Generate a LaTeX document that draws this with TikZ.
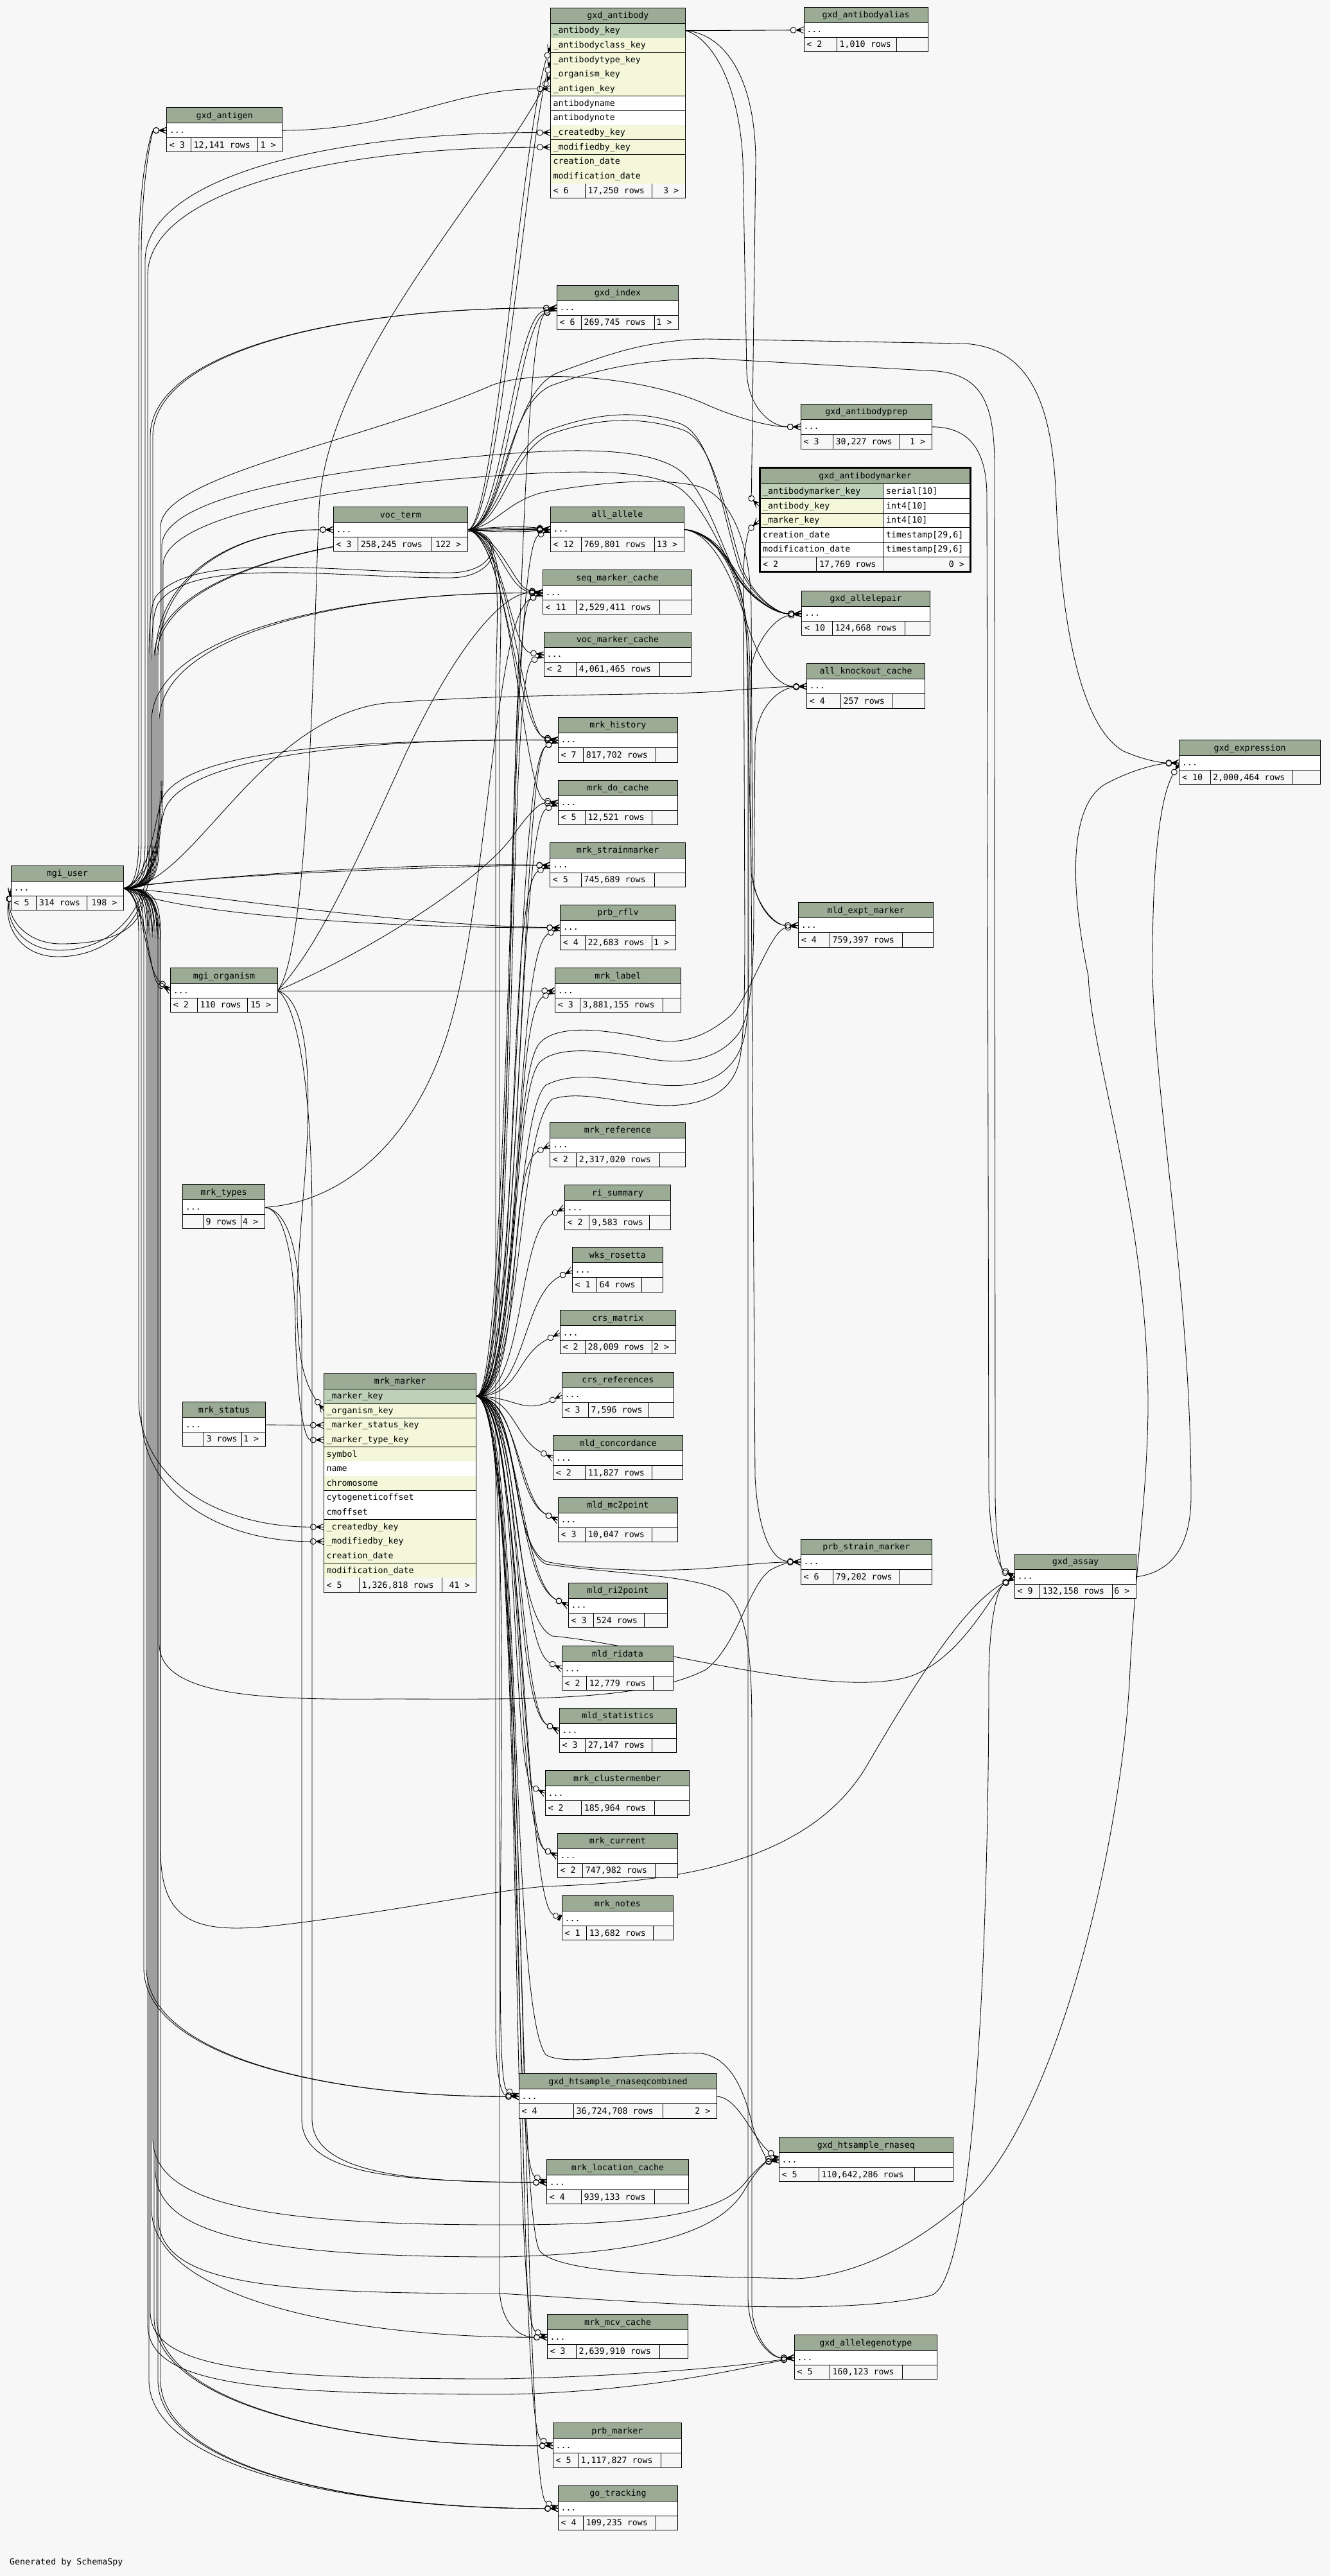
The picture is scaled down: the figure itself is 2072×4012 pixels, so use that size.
\documentclass[tikz,border=0pt]{standalone}
\usepackage{fontspec}
\newfontfamily\monof{DejaVu Sans Mono}
\usetikzlibrary{arrows.meta}
\definecolor{bgc}{HTML}{F7F7F7}
\definecolor{hdrc}{HTML}{9BAB96}
\definecolor{pkc}{HTML}{BED1B8}
\definecolor{fkc}{HTML}{F4F7DA}
\pgfdeclarelayer{bglayer}\pgfdeclarelayer{edgelayer}
\pgfsetlayers{bglayer,edgelayer,main}
\newcommand\tabfont{\monof\fontsize{13.3}{16}\selectfont}
\pgfdeclarearrow{
  name = Crow,
  setup code = {
    \pgfarrowssettipend{0pt}
    \pgfarrowssetlineend{-21pt}
    \pgfarrowssetvisualbackend{-21pt}
    \pgfarrowssetbackend{-21pt}
    \pgfarrowshullpoint{0pt}{5pt}
    \pgfarrowshullpoint{0pt}{-5pt}
    \pgfarrowshullpoint{-21pt}{0pt}
  },
  drawing code = {
    \pgfsetdash{}{0pt}
    \pgfpathmoveto{\pgfpoint{-12pt}{0pt}}
    \pgfpathlineto{\pgfpoint{0pt}{5pt}}
    \pgfpathmoveto{\pgfpoint{-12pt}{0pt}}
    \pgfpathlineto{\pgfpoint{0pt}{-5pt}}
    \pgfpathmoveto{\pgfpoint{-12pt}{0pt}}
    \pgfpathlineto{\pgfpoint{0pt}{0pt}}
    \pgfusepathqstroke
    \pgfpathmoveto{\pgfpoint{-12pt}{0pt}}
    \pgfpathlineto{\pgfpoint{-5pt}{2.6pt}}
    \pgfpathlineto{\pgfpoint{-5pt}{-2.6pt}}
    \pgfpathclose
    \pgfusepathqfill
    \pgfpathcircle{\pgfpoint{-16.5pt}{0pt}}{4.5pt}
    \pgfusepathqstroke
  },
}
\pgfdeclarearrow{
  name = TeeO,
  setup code = {
    \pgfarrowssettipend{0pt}
    \pgfarrowssetlineend{-15.2pt}
    \pgfarrowssetvisualbackend{-15.2pt}
    \pgfarrowssetbackend{-15.2pt}
    \pgfarrowshullpoint{0pt}{5pt}
    \pgfarrowshullpoint{0pt}{-5pt}
    \pgfarrowshullpoint{-15.2pt}{0pt}
  },
  drawing code = {
    \pgfsetdash{}{0pt}
    \pgfpathrectangle{\pgfpoint{-6pt}{-4.5pt}}{\pgfpoint{4pt}{9pt}}
    \pgfusepathqfill
    \pgfpathmoveto{\pgfpoint{-6.8pt}{0pt}}
    \pgfpathlineto{\pgfpoint{-2pt}{0pt}}
    \pgfusepathqstroke
    \pgfpathcircle{\pgfpoint{-11pt}{0pt}}{4.2pt}
    \pgfusepathqstroke
  },
}
\tikzset{
  cell/.style={draw=black,line width=0.9pt},
  txt/.style={anchor=base west,inner sep=0pt,font=\tabfont},
  ttl/.style={anchor=base,inner sep=0pt,font=\tabfont},
  rtxt/.style={anchor=base east,inner sep=0pt,font=\tabfont},
  fk/.style={draw=black,line width=0.85pt,-{Crow}},
  fkt/.style={draw=black,line width=0.85pt,-{TeeO}},
}
\newcommand\mkport[3]{\coordinate (#1) at (#2,#3);%
  \expandafter\xdef\csname px@#1\endcsname{#2}%
  \expandafter\xdef\csname py@#1\endcsname{#3}}
\newcommand\mktab[9]{%
  \def\Tn{#1}\def\Xa{#2}\def\Xb{#4}\def\Sa{#6}\def\Sb{#7}\def\Yb{#5}%
  \pgfmathsetmacro\Yh{#3+24}\pgfmathsetmacro\Yr{#3+47}\pgfmathsetmacro\Yc{#3+35.5}%
  \fill[hdrc] (#2,#3) rectangle (#4,\Yh);
  \fill[white] (#2,\Yh) rectangle (#4,\Yr);
  \fill[bgc] (#2,\Yr) rectangle (#4,#5);
  \draw[cell] (#2,#3) rectangle (#4,#5) (#2,\Yh) -- (#4,\Yh) (#2,\Yr) -- (#4,\Yr) (#6,\Yr) -- (#6,#5) (#7,\Yr) -- (#7,#5);
  \node[ttl] (#1) at ({(#2+#4)/2},#3+16.5) {#8};
  \node[txt] (#1-dots) at (#2+4,\Yc+4) {...};
  \mkport{#1-w}{#2}{\Yc}\mkport{#1-e}{#4}{\Yc}%
  \tabfoot#9}
\newcommand\tabfoot[3]{%
  \pgfmathsetmacro\Yf{(\Yr+\Yb)/2+4.5}%
  \node[txt] (\Tn-fl) at (\Xa+4,\Yf) {#1};
  \node[txt] (\Tn-fm) at (\Sa+4,\Yf) {#2};
  \node[rtxt] (\Tn-fr) at (\Xb-10,\Yf) {#3};}
\newcommand\mmedge[3]{%
  \edef\tx{\csname px@#1\endcsname}\edef\ty{\csname py@#1\endcsname}%
  \pgfmathsetmacro\sg{\ty<2174.6 ? 1 : -1}%
  \draw[fk] (mm-e) .. controls (#2,2174.6) and ({\tx-#3},{\ty+(\sg)*0.5*#3}) .. (#1);}
\newcommand\uedgeup[2]{%
  \edef\tx{\csname px@#1\endcsname}\edef\ty{\csname py@#1\endcsname}%
  \draw[fk] (mgiuser-e) .. controls (#2-14,1383.5) and (#2,1372) .. (#2,1310) -- (#2,\ty+200) .. controls (#2,\ty+70) and ({#2+0.45*(\tx-#2)},\ty) .. (#1);}
\newcommand\uedgedn[2]{%
  \edef\tx{\csname px@#1\endcsname}\edef\ty{\csname py@#1\endcsname}%
  \draw[fk] (mgiuser-e) .. controls (#2-14,1383.5) and (#2,1395) .. (#2,1457) -- (#2,\ty-200) .. controls (#2,\ty-70) and ({#2+0.45*(\tx-#2)},\ty) .. (#1);}
\begin{document}
\begin{tikzpicture}[x=1pt,y=-1pt]
\begin{pgfonlayer}{bglayer}
\fill[bgc] (0,0) rectangle (2072,4012);
\end{pgfonlayer}
\useasboundingbox (0,0) rectangle (2072,4012);

\mktab{gxdalias}{1252.1}{11.3}{1445}{80.3}{1303.5}{1396.3}{gxd\_antibodyalias}{{< 2}{1,010 rows}{}}
\mktab{gxdantigen}{259.7}{167.6}{439.8}{236.5}{297.5}{401.5}{gxd\_antigen}{{< 3}{12,141 rows}{1 >}}
\mktab{gxdindex}{867.3}{444.2}{1056.7}{513}{905.3}{1019.3}{gxd\_index}{{< 6}{269,745 rows}{1 >}}
\mktab{gxdprep}{1247.3}{629.3}{1451.3}{699.3}{1297.3}{1401.3}{gxd\_antibodyprep}{{< 3}{30,227 rows}{1 >}}
\mktab{vocterm}{519.4}{789.5}{728.4}{858.8}{557.7}{671.6}{voc\_term}{{< 3}{258,245 rows}{122 >}}
\mktab{allallele}{857.3}{789}{1065.3}{859}{905.3}{1019.3}{all\_allele}{{< 12}{769,801 rows}{13 >}}
\mktab{seqmc}{845.3}{887.9}{1077.3}{956.3}{897.7}{1027.3}{seq\_marker\_cache}{{< 11}{2,529,411 rows}{}}
\mktab{vocmc}{847.3}{984.4}{1076.7}{1053}{897.7}{1027.3}{voc\_marker\_cache}{{< 2}{4,061,465 rows}{}}
\mktab{gxdap}{1248.8}{920.4}{1448.3}{989.3}{1296.4}{1409.2}{gxd\_allelepair}{{< 10}{124,668 rows}{}}
\mktab{akc}{1256.6}{1033.4}{1440.5}{1103.7}{1309.5}{1389}{all\_knockout\_cache}{{< 4}{257 rows}{}}
\mktab{mrkhist}{869.3}{1117.2}{1055.3}{1187.2}{908.7}{1021.7}{mrk\_history}{{< 7}{817,702 rows}{}}
\mktab{mrkdo}{869.3}{1215.3}{1055.3}{1284.1}{911.3}{1015.3}{mrk\_do\_cache}{{< 5}{12,521 rows}{}}
\mktab{mrksm}{856.7}{1312.2}{1067.3}{1381}{905.3}{1019.3}{mrk\_strainmarker}{{< 5}{745,689 rows}{}}
\mktab{prbrflv}{872.7}{1409.4}{1052.3}{1479}{911.3}{1015.3}{prb\_rflv}{{< 4}{22,683 rows}{1 >}}
\mktab{mrklabel}{864.7}{1507.5}{1060.3}{1576.3}{903.3}{1032.3}{mrk\_label}{{< 3}{3,881,155 rows}{}}
\mktab{mldexpt}{1243.6}{1405.7}{1453.5}{1475.5}{1292.5}{1405.3}{mld\_expt\_marker}{{< 4}{759,397 rows}{}}
\mktab{gxdexpr}{1836.8}{1152.6}{2056.5}{1221.5}{1885}{2012.8}{gxd\_expression}{{< 10}{2,000,464 rows}{}}
\mktab{mgiuser}{17.4}{1348}{192.5}{1417.6}{56.7}{135.3}{mgi\_user}{{< 5}{314 rows}{198 >}}
\mktab{mgiorg}{265.7}{1507.5}{432.3}{1576.4}{307.5}{385.6}{mgi\_organism}{{< 2}{110 rows}{15 >}}
\mktab{mrkref}{856.7}{1748.3}{1067.3}{1817.1}{897.7}{1027.3}{mrk\_reference}{{< 2}{2,317,020 rows}{}}
\mktab{risum}{879.3}{1845.6}{1044.3}{1915.2}{917.7}{1011.7}{ri\_summary}{{< 2}{9,583 rows}{}}
\mktab{wksros}{891.3}{1942.8}{1032.3}{2012}{929.3}{999.3}{wks\_rosetta}{{< 1}{64 rows}{}}
\mktab{crsmat}{872.3}{2040.5}{1052.3}{2108.9}{911.3}{1015.3}{crs\_matrix}{{< 2}{28,009 rows}{2 >}}
\mktab{crsref}{875.3}{2137.4}{1049.3}{2207.4}{916.3}{1009.3}{crs\_references}{{< 3}{7,596 rows}{}}
\mktab{mldconc}{861.7}{2235.7}{1063.3}{2304.7}{911.7}{1015.7}{mld\_concordance}{{< 2}{11,827 rows}{}}
\mktab{mldmc2}{869.3}{2332.4}{1055.3}{2401.5}{911.7}{1015.7}{mld\_mc2point}{{< 3}{10,047 rows}{}}
\mktab{mrktypes}{284.6}{1844.9}{412.4}{1913.1}{316.4}{375.6}{mrk\_types}{{}{9 rows}{4 >}}
\mktab{mrkstatus}{284.6}{2183.5}{413.4}{2252.4}{317.4}{376.6}{mrk\_status}{{}{3 rows}{1 >}}
\mktab{psm}{1247.3}{2397.3}{1451.3}{2467.3}{1297.3}{1401.3}{prb\_strain\_marker}{{< 6}{79,202 rows}{}}
\mktab{gxdassay}{1580.4}{2420.3}{1769.6}{2489.3}{1619.6}{1732.6}{gxd\_assay}{{< 9}{132,158 rows}{6 >}}
\mktab{mldri2}{885.3}{2465.3}{1039.3}{2534.9}{924.7}{1003.7}{mld\_ri2point}{{< 3}{524 rows}{}}
\mktab{mldrid}{875.3}{2563.6}{1048.3}{2632.6}{913.7}{1017.7}{mld\_ridata}{{< 2}{12,779 rows}{}}
\mktab{mldstat}{871.3}{2660.4}{1053.3}{2729.4}{911.7}{1015.7}{mld\_statistics}{{< 3}{27,147 rows}{}}
\mktab{mrkclus}{849.3}{2757.7}{1073.3}{2827.2}{905.7}{1019.7}{mrk\_clustermember}{{< 2}{185,964 rows}{}}
\mktab{mrkcur}{868.3}{2855.4}{1055.3}{2924.5}{907.7}{1020.7}{mrk\_current}{{< 2}{747,982 rows}{}}
\mktab{mrknotes}{875.3}{2952.7}{1048.3}{3021.8}{913.7}{1017.7}{mrk\_notes}{{< 1}{13,682 rows}{}}
\mktab{rnaseqc}{808.5}{3229.7}{1116.5}{3299.2}{893.4}{1032.5}{gxd\_htsample\_rnaseqcombined}{{< 4}{36,724,708 rows}{2 >}}
\mktab{rnaseq}{1213.4}{3328.5}{1484.3}{3397.6}{1275.4}{1424.2}{gxd\_htsample\_rnaseq}{{< 5}{110,642,286 rows}{}}
\mktab{mrkloc}{851.6}{3363.6}{1072.5}{3432.6}{905.3}{1019.2}{mrk\_location\_cache}{{< 4}{939,133 rows}{}}
\mktab{mrkmcv}{852.5}{3604.7}{1071.6}{3673.2}{897.5}{1027.5}{mrk\_mcv\_cache}{{< 3}{2,639,910 rows}{}}
\mktab{gxdag}{1237.3}{3636.6}{1459.5}{3705.1}{1292.4}{1405.3}{gxd\_allelegenotype}{{< 5}{160,123 rows}{}}
\mktab{prbmarker}{861.3}{3773.6}{1061.4}{3843.7}{900.3}{1029.3}{prb\_marker}{{< 5}{1,117,827 rows}{}}
\mktab{gotrack}{869.5}{3871.4}{1055.5}{3940}{908.6}{1021.5}{go\_tracking}{{< 4}{109,235 rows}{}}

% gxd_antibody
\fill[hdrc] (857.5,12.7) rectangle (1067.3,36.3);
\node[ttl] (gxdab) at (962.4,28.8) {gxd\_antibody};
\foreach \rt/\rc [count=\i] in {{\_antibody\_key}/pkc,{\_antibodyclass\_key}/fkc,{\_antibodytype\_key}/fkc,{\_organism\_key}/fkc,{\_antigen\_key}/fkc,{antibodyname}/white,{antibodynote}/white,{\_createdby\_key}/fkc,{\_modifiedby\_key}/fkc,{creation\_date}/fkc,{modification\_date}/fkc}{
  \pgfmathsetmacro\ya{36.3+22.7*(\i-1)}\pgfmathsetmacro\yb{\ya+22.7}
  \fill[\rc] (857.5,\ya) rectangle (1067.3,\yb);
  \draw[cell] (857.5,\yb) -- (1067.3,\yb);
  \node[txt] (gxdab-r\i) at (861.5,{(\ya+\yb)/2+4}) {\rt};
}
\fill[bgc] (857.5,286) rectangle (1067.3,308.3);
\draw[cell] (857.5,12.7) rectangle (1067.3,308.3) (857.5,36.3) -- (1067.3,36.3) (911.5,286) -- (911.5,308.3) (1015.5,286) -- (1015.5,308.3);
\node[txt] (gxdab-fl) at (861.5,301.6) {< 6};
\node[txt] (gxdab-fm) at (915.5,301.6) {17,250 rows};
\node[rtxt] (gxdab-fr) at (1057.3,301.6) {3 >};
\mkport{gxdab-e}{1067.3}{47.65}
\mkport{gxdab-w2}{857.5}{70.35}
\mkport{gxdab-w3}{857.5}{93.05}
\mkport{gxdab-w4}{857.5}{115.75}
\mkport{gxdab-w5}{857.5}{138.45}
\mkport{gxdab-w8}{857.5}{206.55}
\mkport{gxdab-w9}{857.5}{229.25}

% mrk_marker
\fill[hdrc] (504.3,2139.3) rectangle (741.8,2163.3);
\node[ttl] (mm) at (623,2155.8) {mrk\_marker};
\foreach \rt/\rc [count=\i] in {{\_marker\_key}/pkc,{\_organism\_key}/fkc,{\_marker\_status\_key}/fkc,{\_marker\_type\_key}/fkc,{symbol}/fkc,{name}/white,{chromosome}/fkc,{cytogeneticoffset}/white,{cmoffset}/white,{\_createdby\_key}/fkc,{\_modifiedby\_key}/fkc,{creation\_date}/fkc,{modification\_date}/fkc}{
  \pgfmathsetmacro\ya{2163.3+22.615*(\i-1)}\pgfmathsetmacro\yb{\ya+22.615}
  \fill[\rc] (504.3,\ya) rectangle (741.8,\yb);
  \draw[cell] (504.3,\yb) -- (741.8,\yb);
  \node[txt] (mm-r\i) at (508.3,{(\ya+\yb)/2+4}) {\rt};
}
\fill[bgc] (504.3,2457.3) rectangle (741.8,2480);
\draw[cell] (504.3,2139.3) rectangle (741.8,2480) (504.3,2163.3) -- (741.8,2163.3) (559.3,2457.3) -- (559.3,2480) (688.3,2457.3) -- (688.3,2480);
\node[txt] (mm-fl) at (508.3,2473.2) {< 5};
\node[txt] (mm-fm) at (563.3,2473.2) {1,326,818 rows};
\node[rtxt] (mm-fr) at (731.8,2473.2) {41 >};
\mkport{mm-e}{741.8}{2174.6}
\mkport{mm-w2}{504.3}{2197.2}
\mkport{mm-w3}{504.3}{2219.8}
\mkport{mm-w4}{504.3}{2242.5}
\mkport{mm-w10}{504.3}{2378.2}
\mkport{mm-w11}{504.3}{2400.8}

% gxd_antibodymarker
\fill[hdrc] (1183.2,728.2) rectangle (1511.8,753.3);
\fill[pkc] (1183.2,753.3) rectangle (1375.7,776.7);
\fill[fkc] (1183.2,776.7) rectangle (1375.7,821.7);
\fill[white] (1375.7,753.3) rectangle (1511.8,821.7);
\fill[white] (1183.2,821.7) rectangle (1511.8,867);
\fill[bgc] (1183.2,867) rectangle (1511.8,890.2);
\draw[cell] (1183.2,753.3) -- (1511.8,753.3) (1183.2,776.7) -- (1511.8,776.7) (1183.2,799.3) -- (1511.8,799.3) (1183.2,821.7) -- (1511.8,821.7) (1183.2,844.3) -- (1511.8,844.3) (1183.2,867) -- (1511.8,867) (1375.7,753.3) -- (1375.7,890.2) (1271,867) -- (1271,890.2);
\draw[line width=3pt] (1183.2,728.2) rectangle (1511.8,890.2);
\node[ttl] (abm) at (1347.5,745.5) {gxd\_antibodymarker};
\node[txt] (abm-r1) at (1188,769) {\_antibodymarker\_key};
\node[txt] (abm-t1) at (1380,769) {serial[10]};
\node[txt] (abm-r2) at (1188,792) {\_antibody\_key};
\node[txt] (abm-t2) at (1380,792) {int4[10]};
\node[txt] (abm-r3) at (1188,814.5) {\_marker\_key};
\node[txt] (abm-t3) at (1380,814.5) {int4[10]};
\node[txt] (abm-r4) at (1188,837) {creation\_date};
\node[txt] (abm-t4) at (1380,837) {timestamp[29,6]};
\node[txt] (abm-r5) at (1188,859.7) {modification\_date};
\node[txt] (abm-t5) at (1380,859.7) {timestamp[29,6]};
\node[txt] (abm-fl) at (1188,883) {< 2};
\node[txt] (abm-fm) at (1276,883) {17,769 rows};
\node[rtxt] (abm-fr) at (1502,883) {0 >};
\mkport{abm-w2}{1181.7}{788}
\mkport{abm-w3}{1181.7}{810.5}

\node[txt] (gen) at (15,3994) {Generated by SchemaSpy};

\begin{pgfonlayer}{edgelayer}
\draw[fk] (gxdab-e) -- (gxdalias-w);
\draw[fk] (gxdab-e) .. controls (1100,55) and (1150,115) .. (1157,250) -- (1163,580) .. controls (1166,640) and (1205,664.8) .. (gxdprep-w);
\draw[fk] (gxdab-e) .. controls (1125,52) and (1176,115) .. (1177,250) -- (1171,720) .. controls (1170,760) and (1172,778) .. (abm-w2);
\draw[fk] (gxdantigen-e) .. controls (620,203) and (700,138.45) .. (gxdab-w5);
\draw[fk] (vocterm-e) .. controls (770,825) and (812,215) .. (gxdab-w2);
\draw[fk] (vocterm-e) .. controls (776,825) and (820,235) .. (gxdab-w3);
\draw[fk] (vocterm-e) .. controls (782,825) and (800,495) .. (gxdindex-w);
\draw[fk] (vocterm-e) .. controls (788,825) and (808,505) .. (gxdindex-w);
\foreach \dd in {-5,-2,1,4} {\draw[fk] (vocterm-e) .. controls (770,825+\dd) and (815,824.5+\dd) .. (allallele-w);}
\draw[fk] (vocterm-e) .. controls (775,830) and (790,918) .. (seqmc-w);
\draw[fk] (vocterm-e) .. controls (782,835) and (800,915) .. (seqmc-w);
\draw[fk] (vocterm-e) .. controls (785,835) and (795,1012) .. (vocmc-w);
\draw[fk] (vocterm-e) .. controls (788,835) and (805,1140) .. (mrkhist-w);
\draw[fk] (vocterm-e) .. controls (794,835) and (815,1145) .. (mrkhist-w);
\draw[fk] (vocterm-e) .. controls (798,840) and (815,1240) .. (mrkdo-w);
\draw[fk] (vocterm-e) .. controls (790,835) and (772,950) .. (772,1100) -- (772,3150) .. controls (772,3230) and (780,3262) .. (rnaseqc-w);
\draw[fk] (vocterm-e) .. controls (795,835) and (778,950) .. (778,1100) -- (778,3560) .. controls (778,3620) and (810,3640.2) .. (mrkmcv-w);
\draw[fk] (vocterm-e) .. controls (790,815) and (790,610) .. (870,580) .. controls (940,555) and (1000,530) .. (1100,528) -- (1500,535) .. controls (1610,540) and (1640,640) .. (1645,780) .. controls (1652,960) and (1680,1130) .. (1750,1170) .. controls (1785,1185) and (1810,1188) .. (gxdexpr-w);
\draw[fk] (vocterm-e) .. controls (785,815) and (785,630) .. (860,600) .. controls (930,575) and (1000,560) .. (1100,558) -- (1460,578) .. controls (1530,585) and (1548,630) .. (1549,720) -- (1550,2330) .. controls (1551,2420) and (1562,2448) .. (gxdassay-w);
\draw[fk] (vocterm-e) .. controls (780,815) and (790,690) .. (860,668) .. controls (940,640) and (1000,640) .. (1060,660) .. controls (1110,680) and (1125,800) .. (1150,880) .. controls (1170,930) and (1210,955.9) .. (gxdap-w);
\draw[fk] (vocterm-e) .. controls (783,818) and (795,700) .. (860,675) .. controls (940,648) and (1005,650) .. (1065,670) .. controls (1112,690) and (1130,800) .. (1154,880) .. controls (1172,930) and (1212,955.9) .. (gxdap-w);
\draw[fk] (vocterm-e) .. controls (775,820) and (790,775) .. (860,764) .. controls (960,748) and (1040,745) .. (1090,758) .. controls (1140,775) and (1170,850) .. (1170,950) -- (1172,1360) .. controls (1175,1410) and (1205,1441.2) .. (mldexpt-w);
\draw[fk] (vocterm-e) .. controls (790,830) and (780,900) .. (700,900) .. controls (520,900) and (300,865) .. (246,940) .. controls (236,960) and (236,1000) .. (236,1060) -- (236,1330) .. controls (236,1420) and (180,1490) .. (90,1490) .. controls (30,1490) and (6,1440) .. (mgiuser-w);
\draw[fk] (vocterm-e) .. controls (786,834) and (776,892) .. (700,892) .. controls (520,892) and (300,856) .. (242,930) .. controls (232,950) and (232,990) .. (232,1050) -- (232,1330) .. controls (232,1412) and (180,1480) .. (92,1480) .. controls (36,1480) and (9,1437) .. (mgiuser-w);
\draw[fk] (mgiuser-e) .. controls (212,1385) and (224,1395) .. (222,1412) .. controls (210,1455) and (160,1470) .. (95,1470) .. controls (42,1470) and (12,1432) .. (mgiuser-w);
\draw[fk] (gxdprep-e) .. controls (1500,664.8) and (1536,690) .. (1537,770) -- (1540,2320) .. controls (1542,2410) and (1558,2442) .. (gxdassay-w);
\draw[fk] (gxdassay-e) .. controls (1815,2450) and (1855,2420) .. (1855,2330) .. controls (1855,2000) and (1795,1700) .. (1795,1500) .. controls (1795,1330) and (1808,1240) .. (gxdexpr-w);
\draw[fk] (rnaseqc-e) .. controls (1150,3266) and (1172,3330) .. (rnaseq-w);
\draw[fk] (allallele-e) .. controls (1110,828) and (1128,868) .. (1150,900) .. controls (1178,940) and (1210,955.9) .. (gxdap-w);
\draw[fk] (allallele-e) .. controls (1105,826) and (1135,872) .. (1156,904) .. controls (1182,942) and (1214,955.9) .. (gxdap-w);
\draw[fk] (allallele-e) .. controls (1110,830) and (1140,900) .. (1160,960) .. controls (1180,1030) and (1210,1068.9) .. (akc-w);
\draw[fk] (allallele-e) .. controls (1120,832) and (1160,880) .. (1163,1000) -- (1170,1360) .. controls (1176,1410) and (1208,1441.2) .. (mldexpt-w);
\draw[fk] (allallele-e) .. controls (1125,834) and (1167,900) .. (1168,1050) -- (1176,2300) .. controls (1180,2380) and (1200,2430) .. (psm-w);
\draw[fk] (allallele-e) .. controls (1128,836) and (1165,910) .. (1165,1050) -- (1165,3580) .. controls (1166,3640) and (1200,3672.1) .. (gxdag-w);
\mmedge{gxdindex-w}{800}{70}
\mmedge{allallele-w}{804}{70}
\mmedge{seqmc-w}{806}{60}
\mmedge{vocmc-w}{808}{60}
\mmedge{mrkhist-w}{810}{70}
\mmedge{mrkhist-w}{814}{60}
\mmedge{mrkdo-w}{812}{65}
\mmedge{mrksm-w}{812}{70}
\mmedge{prbrflv-w}{814}{75}
\mmedge{mrklabel-w}{816}{70}
\mmedge{mrkref-w}{818}{70}
\mmedge{risum-w}{818}{75}
\mmedge{wksros-w}{820}{80}
\mmedge{crsmat-w}{810}{70}
\mmedge{crsref-w}{800}{60}
\mmedge{mldconc-w}{800}{60}
\mmedge{mldmc2-w}{805}{60}
\mmedge{mldmc2-w}{810}{70}
\mmedge{mldri2-w}{808}{75}
\mmedge{mldri2-w}{812}{85}
\mmedge{mldrid-w}{810}{70}
\mmedge{mldstat-w}{812}{65}
\mmedge{mldstat-w}{816}{75}
\mmedge{mrkclus-w}{812}{55}
\mmedge{mrkcur-w}{814}{60}
\mmedge{mrkcur-w}{818}{70}
\draw[fkt] (mm-e) .. controls (816,2174.6) and (815,2960) .. (mrknotes-w);
\mmedge{rnaseqc-w}{814}{50}
\mmedge{mrkloc-w}{816}{60}
\mmedge{mrkmcv-w}{818}{60}
\mmedge{prbmarker-w}{820}{60}
\mmedge{gotrack-w}{822}{60}
\draw[fk] (mm-e) .. controls (806,2174.6) and (795,1680) .. (840,1625) .. controls (870,1592) and (950,1605) .. (1017,1619) .. controls (1060,1628) and (1100,1615) .. (1140,1580) .. controls (1168,1550) and (1200,1450) .. (mldexpt-w);
\draw[fk] (mm-e) .. controls (808,2174.6) and (795,1710) .. (840,1655) .. controls (870,1625) and (950,1638) .. (1017,1650) .. controls (1070,1658) and (1120,1650) .. (1150,1610) .. controls (1172,1580) and (1174,1500) .. (1174,1400) -- (1176,1160) .. controls (1177,1100) and (1215,1072) .. (akc-w);
\draw[fk] (mm-e) .. controls (810,2174.6) and (800,1740) .. (850,1690) .. controls (900,1665) and (960,1685) .. (1030,1690) .. controls (1090,1694) and (1140,1680) .. (1158,1620) .. controls (1166,1590) and (1166,1550) .. (1166,1450) -- (1166,1070) .. controls (1166,1010) and (1205,962) .. (gxdap-w);
\draw[fk] (mm-e) .. controls (812,2174.6) and (805,1760) .. (860,1712) .. controls (900,1698) and (960,1716) .. (1017,1721) .. controls (1080,1726) and (1140,1710) .. (1152,1650) .. controls (1158,1620) and (1160,1560) .. (1160,1450) -- (1158,900) .. controls (1158,850) and (1166,826) .. (abm-w3);
\draw[fk] (mm-e) .. controls (812,2174.6) and (790,2400) .. (850,2432) .. controls (930,2448) and (1050,2448) .. (1120,2441) .. controls (1170,2436) and (1205,2433) .. (psm-w);
\draw[fk] (mm-e) .. controls (814,2174.6) and (790,2515) .. (860,2548) .. controls (1000,2560) and (1300,2650) .. (1420,2610) .. controls (1500,2580) and (1545,2480) .. (gxdassay-w);
\draw[fk] (mm-e) .. controls (816,2174.6) and (790,3120) .. (850,3200) .. controls (880,3220) and (1000,3195) .. (1092,3198) .. controls (1140,3205) and (1160,3260) .. (1172,3310) .. controls (1180,3340) and (1195,3362) .. (rnaseq-w);
\draw[fk] (mm-e) .. controls (813,2174.6) and (792,2405) .. (850,2436) .. controls (960,2452) and (1080,2452) .. (1130,2480) .. controls (1168,2510) and (1171,2600) .. (1171,2700) -- (1171,3590) .. controls (1172,3645) and (1205,3672.1) .. (gxdag-w);
\draw[fk] (mm-e) .. controls (818,2174.6) and (800,3420) .. (840,3505) .. controls (870,3545) and (1100,3545) .. (1239,3549) .. controls (1330,3545) and (1420,3500) .. (1500,3431) .. controls (1650,3300) and (1750,2850) .. (1760,2600) .. controls (1770,2420) and (1785,2350) .. (1788,2200) .. controls (1790,1900) and (1700,1650) .. (1695,1520) .. controls (1670,1400) and (1660,1260) .. (1720,1222) .. controls (1760,1200) and (1800,1190) .. (gxdexpr-w);
\draw[fk] (mgiorg-e) .. controls (482,1480) and (488,1000) .. (497,790) .. controls (510,560) and (760,300) .. (gxdab-w4);
\draw[fk] (mgiorg-e) -- (mrklabel-w);
\draw[fk] (mgiorg-e) .. controls (475,1555) and (488,1660) .. (475,1830) .. controls (462,1990) and (450,2120) .. (mm-w2);
\draw[fk] (mgiorg-e) .. controls (460,1560) and (486,1680) .. (486,1900) -- (486,3300) .. controls (486,3380) and (620,3399.1) .. (mrkloc-w);
\draw[fk] (mgiorg-e) .. controls (600,1470) and (760,1360) .. (800,1300) .. controls (825,1265) and (840,1250.8) .. (mrkdo-w);
\draw[fk] (mgiorg-e) .. controls (500,1470) and (560,1330) .. (620,1200) .. controls (700,1020) and (780,923.4) .. (seqmc-w);
\draw[fk] (mrktypes-e) .. controls (440,1882) and (458,1950) .. (460,2060) .. controls (462,2190) and (475,2242.5) .. (mm-w4);
\draw[fk] (mrktypes-e) .. controls (540,1872) and (650,1770) .. (700,1600) .. controls (760,1400) and (770,960) .. (seqmc-w);
\draw[fk] (mrktypes-e) .. controls (452,1885) and (470,1960) .. (470,2100) -- (470,3300) .. controls (470,3388) and (620,3397) .. (mrkloc-w);
\draw[fk] (mrkstatus-e) -- (mm-w3);
\uedgeup{gxdantigen-w}{216}
\uedgeup{gxdantigen-w}{220}
\uedgeup{gxdab-w8}{226}
\uedgeup{gxdab-w9}{230}
\uedgeup{gxdindex-w}{234}
\uedgeup{gxdindex-w}{238}
\uedgeup{vocterm-w}{242}
\uedgeup{vocterm-w}{246}
\uedgeup{allallele-w}{240}
\uedgeup{allallele-w}{244}
\uedgeup{seqmc-w}{248}
\uedgeup{seqmc-w}{236}
\draw[fk] (mgiuser-e) .. controls (230,1372) and (240,1290) .. (250,1250) .. controls (280,1160) and (600,1152.7) .. (mrkhist-w);
\draw[fk] (mgiuser-e) .. controls (234,1372) and (246,1300) .. (256,1262) .. controls (290,1170) and (620,1150) .. (mrkhist-w);
\draw[fk] (mgiuser-e) .. controls (260,1368) and (620,1350) .. (mrksm-w);
\draw[fk] (mgiuser-e) .. controls (250,1372) and (600,1343) .. (mrksm-w);
\draw[fk] (mgiuser-e) .. controls (300,1390) and (600,1440) .. (prbrflv-w);
\draw[fk] (mgiuser-e) .. controls (260,1420) and (560,1445) .. (prbrflv-w);
\draw[fk] (mgiuser-e) .. controls (300,1383) and (400,1120) .. (600,1095) .. controls (800,1080) and (1000,1083) .. (1100,1078) .. controls (1160,1074) and (1200,1070) .. (akc-w);
\draw[fk] (mgiuser-e) .. controls (238,1383) and (250,1320) .. (250,1200) -- (250,820) .. controls (252,740) and (560,690) .. (766,600) .. controls (830,575) and (1000,585) .. (1100,630) .. controls (1150,652) and (1200,664.8) .. (gxdprep-w);
\draw[fk] (mgiuser-e) .. controls (240,1383) and (252,1320) .. (252,1200) -- (252,850) .. controls (254,770) and (520,735) .. (700,715) .. controls (880,696) and (1000,695) .. (1055,730) .. controls (1100,760) and (1125,860) .. (1150,900) .. controls (1175,940) and (1215,955.9) .. (gxdap-w);
\draw[fk] (mgiuser-e) .. controls (242,1383) and (254,1320) .. (254,1200) -- (254,880) .. controls (256,800) and (540,760) .. (720,745) .. controls (900,730) and (1010,730) .. (1058,760) .. controls (1100,790) and (1128,870) .. (1152,905) .. controls (1178,942) and (1216,955.9) .. (gxdap-w);
\draw[fk] (mgiuser-e) .. controls (224,1392) and (226,1510) .. (mgiorg-w);
\draw[fk] (mgiuser-e) .. controls (230,1398) and (232,1525) .. (mgiorg-w);
\uedgedn{mm-w10}{216}
\uedgedn{mm-w11}{220}
\uedgedn{rnaseqc-w}{224}
\uedgedn{rnaseqc-w}{228}
\uedgedn{mrkmcv-w}{236}
\uedgedn{prbmarker-w}{240}
\uedgedn{prbmarker-w}{244}
\uedgedn{gotrack-w}{232}
\uedgedn{gotrack-w}{246}
\uedgedn{gotrack-w}{250}
\draw[fk] (mgiuser-e) .. controls (226,1383) and (238,1396) .. (238,1470) -- (238,3330) .. controls (238,3430) and (400,3465) .. (780,3465) .. controls (1000,3465) and (1120,3450) .. (1160,3400) .. controls (1180,3375) and (1195,3366) .. (rnaseq-w);
\draw[fk] (mgiuser-e) .. controls (228,1383) and (242,1396) .. (242,1470) -- (242,3380) .. controls (242,3480) and (400,3515) .. (780,3515) .. controls (1000,3510) and (1120,3480) .. (1160,3410) .. controls (1178,3380) and (1192,3368) .. (rnaseq-w);
\draw[fk] (mgiuser-e) .. controls (226,1383) and (234,1396) .. (234,1470) -- (234,3600) .. controls (234,3690) and (400,3705) .. (780,3705) .. controls (1000,3700) and (1150,3685) .. (gxdag-w);
\draw[fk] (mgiuser-e) .. controls (226,1383) and (230,1396) .. (230,1470) -- (230,3620) .. controls (230,3715) and (400,3729) .. (790,3729) .. controls (1000,3725) and (1150,3690) .. (gxdag-w);
\draw[fk] (mgiuser-e) .. controls (226,1383) and (246,1396) .. (246,1470) -- (246,3450) .. controls (246,3555) and (400,3572) .. (780,3572) .. controls (1000,3585) and (1300,3610) .. (1450,3575) .. controls (1530,3550) and (1540,2850) .. (1540,2620) .. controls (1540,2530) and (1552,2475) .. (gxdassay-w);
\draw[fk] (mgiuser-e) .. controls (226,1383) and (250,1396) .. (250,1470) -- (250,2880) .. controls (250,2990) and (300,3012) .. (420,3000) .. controls (600,2980) and (780,2942) .. (850,2938) .. controls (1000,2932) and (1250,2920) .. (1350,2750) .. controls (1420,2630) and (1500,2500) .. (gxdassay-w);
\draw[fk] (mgiuser-e) .. controls (226,1383) and (248,1396) .. (248,1470) -- (248,2560) .. controls (248,2640) and (400,2648) .. (600,2646) .. controls (800,2646) and (1000,2652) .. (1100,2600) .. controls (1150,2560) and (1165,2470) .. (1200,2445) .. controls (1215,2437) and (1230,2433) .. (psm-w);
\end{pgfonlayer}
\end{tikzpicture}
\end{document}
